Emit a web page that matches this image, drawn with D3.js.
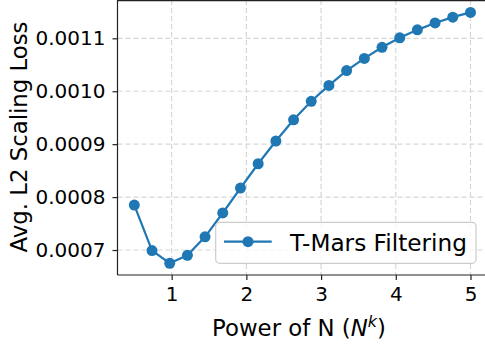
<!DOCTYPE html>
<html>
<head>
<meta charset="utf-8">
<script src="https://cdn.jsdelivr.net/npm/d3@7"></script>
<style>
  body { margin: 0; background: #fff; }
  text { font-family: "DejaVu Sans", sans-serif; fill: #000; }
</style>
</head>
<body>
<div id="chart"></div>
<script>
// data
var powers = [0.5, 0.737, 0.974, 1.211, 1.447, 1.684, 1.921, 2.158, 2.395, 2.632,
              2.868, 3.105, 3.342, 3.579, 3.816, 4.053, 4.289, 4.526, 4.763, 5.0];
var losses = [0.000785, 0.000699, 0.000675, 0.000690, 0.000725, 0.000770, 0.000817, 0.000863, 0.000906, 0.000946,
              0.000981, 0.001011, 0.001039, 0.001062, 0.001083, 0.001101, 0.001116, 0.001129, 0.001140, 0.001149];
var xTicks = [1, 2, 3, 4, 5];
var yTicks = [0.0007, 0.0008, 0.0009, 0.0010, 0.0011];
var seriesName = "T-Mars Filtering";

var width = 485, height = 348;
var plot = { left: 117.5, right: 487.3, top: 0, bottom: 275 };

var svg = d3.select("#chart")
  .append("svg")
  .attr("width", width)
  .attr("height", height);

var x = d3.scaleLinear().domain([0.275, 5.225]).range([plot.left, plot.right]);
var y = d3.scaleLinear().domain([0.0006528, 0.0011724]).range([plot.bottom, plot.top]);

// grid
svg.append("g").selectAll("line")
  .data(xTicks)
  .enter()
  .append("line")
  .attr("x1", function(d) { return x(d); })
  .attr("x2", function(d) { return x(d); })
  .attr("y1", plot.top)
  .attr("y2", plot.bottom)
  .attr("stroke", "#d6d6d6")
  .attr("stroke-width", 1.2)
  .attr("stroke-dasharray", "5,3");

svg.append("g").selectAll("line")
  .data(yTicks)
  .enter()
  .append("line")
  .attr("x1", plot.left)
  .attr("x2", plot.right)
  .attr("y1", function(d) { return y(d); })
  .attr("y2", function(d) { return y(d); })
  .attr("stroke", "#d6d6d6")
  .attr("stroke-width", 1.2)
  .attr("stroke-dasharray", "5,3");

// axes
var xAxis = svg.append("g")
  .attr("transform", "translate(0," + plot.bottom + ")")
  .call(d3.axisBottom(x).tickValues(xTicks).tickSize(5).tickPadding(7).tickFormat(d3.format("d")));
var yAxis = svg.append("g")
  .attr("transform", "translate(" + plot.left + ",0)")
  .call(d3.axisLeft(y).tickValues(yTicks).tickSize(5).tickPadding(7).tickFormat(d3.format(".4f")));

[xAxis, yAxis].forEach(function(a) {
  a.select(".domain").remove();
  a.selectAll(".tick line").attr("stroke", "#222").attr("stroke-width", 1.2);
  a.selectAll(".tick text").style("font-size", "20px").attr("fill", "#000");
});

// spines
svg.append("line").attr("x1", plot.left).attr("x2", plot.left).attr("y1", plot.top).attr("y2", plot.bottom)
  .attr("stroke", "#222").attr("stroke-width", 1.2);
svg.append("line").attr("x1", plot.left).attr("x2", plot.right).attr("y1", plot.bottom).attr("y2", plot.bottom)
  .attr("stroke", "#222").attr("stroke-width", 1.2);
svg.append("line").attr("x1", plot.left).attr("x2", plot.right).attr("y1", plot.top + 0.6).attr("y2", plot.top + 0.6)
  .attr("stroke", "#222").attr("stroke-width", 1.2);

// series
var line = d3.line()
  .x(function(d, i) { return x(powers[i]); })
  .y(function(d) { return y(d); });

svg.append("path")
  .datum(losses)
  .attr("d", line)
  .attr("fill", "none")
  .attr("stroke", "#1f77b4")
  .attr("stroke-width", 2.2);

svg.selectAll("circle.pt")
  .data(losses)
  .enter()
  .append("circle")
  .attr("class", "pt")
  .attr("cx", function(d, i) { return x(powers[i]); })
  .attr("cy", function(d) { return y(d); })
  .attr("r", 5.5)
  .attr("fill", "#1f77b4");

// axis labels
var xl = svg.append("text")
  .attr("x", 299)
  .attr("y", 336)
  .attr("text-anchor", "middle")
  .style("font-size", "22.8px");
xl.append("tspan").text("Power of N (");
xl.append("tspan").text("N").style("font-style", "italic");
xl.append("tspan").text("k").style("font-style", "italic").style("font-size", "16px").attr("dy", -9);
xl.append("tspan").text(")").attr("dy", 9);

svg.append("text")
  .attr("transform", "translate(27,137) rotate(-90)")
  .attr("text-anchor", "middle")
  .style("font-size", "22.8px")
  .text("Avg. L2 Scaling Loss");

// legend
var lg = svg.append("g");
lg.append("rect")
  .attr("x", 215.7).attr("y", 222.3)
  .attr("width", 260.3).attr("height", 41)
  .attr("rx", 4).attr("ry", 4)
  .attr("fill", "rgba(255,255,255,0.8)")
  .attr("stroke", "#cccccc")
  .attr("stroke-width", 1.2);
lg.append("line")
  .attr("x1", 224).attr("x2", 271.7)
  .attr("y1", 241.7).attr("y2", 241.7)
  .attr("stroke", "#1f77b4").attr("stroke-width", 2.2);
lg.append("circle")
  .attr("cx", 248).attr("cy", 241.7).attr("r", 5.5)
  .attr("fill", "#1f77b4");
lg.append("text")
  .attr("x", 290).attr("y", 250.5)
  .style("font-size", "23.2px")
  .text(seriesName);
</script>
</body>
</html>
